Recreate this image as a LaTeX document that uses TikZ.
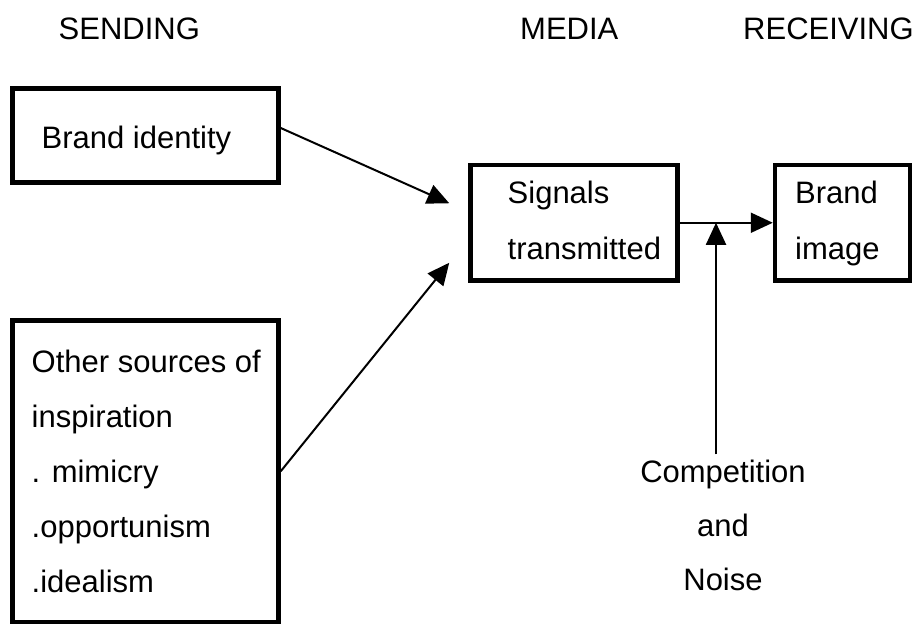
\documentclass[tikz,border=0pt]{standalone}
\usepackage{fontspec}
\setmainfont{Liberation Sans}
\usetikzlibrary{arrows.meta,calc}

\begin{document}
\begin{tikzpicture}[x=1pt,y=-1pt,
  box/.style={draw=black, line width=4.5pt, inner sep=0pt},
  lbl/.style={font=\fontsize{31}{55}\selectfont, inner sep=0pt, anchor=base west, align=left},
  arr/.style={line width=2pt, -{Triangle[length=22pt,width=20pt]}}]
\useasboundingbox (0,0) rectangle (921,624);

% column headings
\node[lbl] (hsend) at (58.5,39) {SENDING};
\node[lbl] (hmedia) at (520,39) {MEDIA};
\node[lbl] (hrecv) at (743,39) {RECEIVING};

% boxes
\node[box, minimum width=266pt, minimum height=94pt] (bi) at (145.5,135.5) {};
\node[box, minimum width=266pt, minimum height=301.5pt] (os) at (145.5,471.25) {};
\node[box, minimum width=207pt, minimum height=115.5pt] (sig) at (574,222.75) {};
\node[box, minimum width=135pt, minimum height=115.5pt] (bimg) at (842.5,222.75) {};

% box texts (a multi-line node sits on the baseline of its last line)
\node[lbl] (bitext) at (41.5,148) {Brand identity};
\node[lbl] (ostext) at (31.5,592) {Other sources of\\inspiration\\. mimicry\\.opportunism\\.idealism};
\node[lbl, font=\fontsize{31}{56}\selectfont] (sigtext) at (507.5,259) {Signals\\transmitted};
\node[lbl, font=\fontsize{31}{56}\selectfont] (bimgtext) at (795,259) {Brand\\image};

% outside influence
\node[lbl, anchor=base, align=center, font=\fontsize{31}{54}\selectfont] (comp) at (723,590) {Competition\\and\\Noise};

% connectors
\draw[arr] ([yshift=7.5pt]bi.east) -- ([xshift=-19pt,yshift=19.5pt]sig.west);
\draw[arr] (os.east) -- ([xshift=-19pt,yshift=-40pt]sig.west);
\draw[arr] (sig.east) -- (bimg.west);
\coordinate (j) at ($(sig.east)!0.39!(bimg.west)$);
\draw[arr] ($(j |- comp.north)+(0,-5)$) -- (j);
\end{tikzpicture}
\end{document}
